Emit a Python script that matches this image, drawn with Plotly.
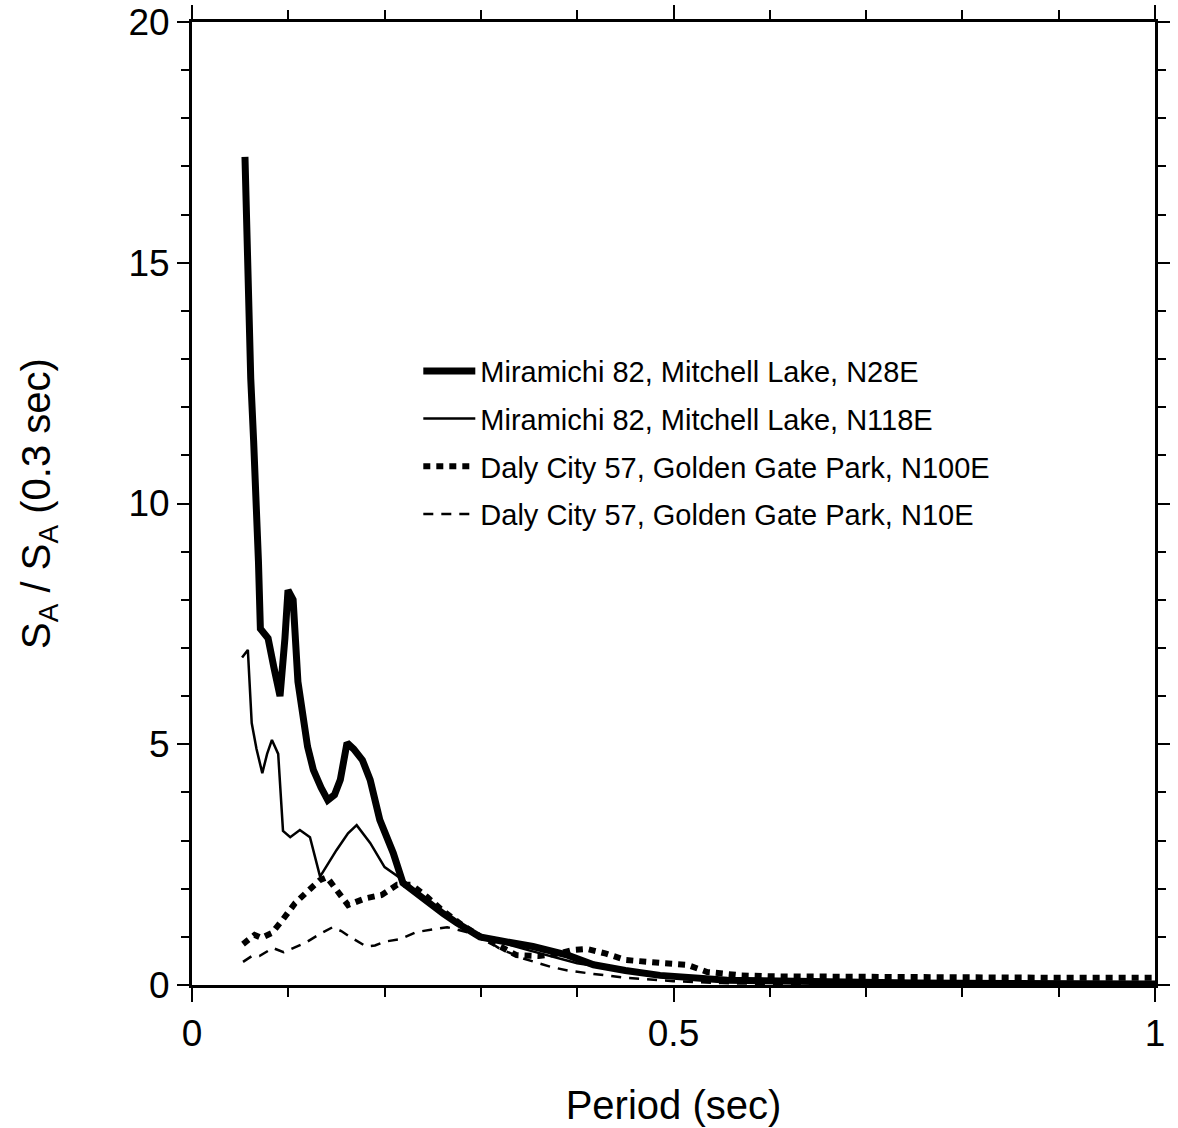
import plotly.graph_objects as go

# N28E (thick solid)
x_n28e = [0.055, 0.058, 0.061, 0.064, 0.0665, 0.069, 0.071, 0.075, 0.079, 0.085, 0.0914,
          0.0965, 0.0997, 0.105, 0.110, 0.120, 0.126, 0.134, 0.141, 0.148, 0.154, 0.161,
          0.168, 0.177, 0.185, 0.195, 0.209, 0.219, 0.233, 0.247, 0.261, 0.275, 0.299,
          0.320, 0.354, 0.390, 0.417, 0.450, 0.486, 0.556, 0.650, 0.750, 0.850, 1.000]
y_n28e = [17.2, 14.5, 12.6, 11.3, 10.3, 8.8, 7.4, 7.3, 7.2, 6.6, 6.0,
          7.2, 8.2, 8.0, 6.3, 4.95, 4.47, 4.1, 3.84, 3.95, 4.26, 5.03,
          4.9, 4.67, 4.26, 3.43, 2.74, 2.12, 1.9, 1.7, 1.48, 1.29, 1.0,
          0.92, 0.8, 0.62, 0.42, 0.3, 0.2, 0.1, 0.06, 0.04, 0.03, 0.02]

# N118E (thin solid)
x_n118e = [0.052, 0.058, 0.062, 0.067, 0.073, 0.078, 0.083, 0.0895, 0.0945, 0.102, 0.112,
           0.1225, 0.133, 0.150, 0.162, 0.171, 0.185, 0.200, 0.219, 0.247, 0.275, 0.300,
           0.350, 0.400, 0.450, 0.500, 0.550, 0.600, 0.700, 0.850, 1.000]
y_n118e = [6.8, 6.96, 5.44, 4.9, 4.4, 4.8, 5.09, 4.8, 3.2, 3.07, 3.22,
           3.07, 2.25, 2.8, 3.15, 3.32, 2.95, 2.45, 2.18, 1.68, 1.26, 1.0,
           0.72, 0.45, 0.3, 0.18, 0.1, 0.06, 0.04, 0.03, 0.02]

# N100E (thick dotted)
x_n100e = [0.053, 0.065, 0.072, 0.083, 0.094, 0.107, 0.123, 0.133, 0.140, 0.150, 0.162,
           0.180, 0.197, 0.213, 0.228, 0.244, 0.260, 0.280, 0.300, 0.320, 0.337, 0.360,
           0.380, 0.396, 0.410, 0.430, 0.450, 0.486, 0.514, 0.535, 0.570, 0.600, 0.700,
           0.800, 0.900, 1.000]
y_n100e = [0.85, 1.04, 0.98, 1.08, 1.35, 1.7, 2.0, 2.18, 2.24, 1.97, 1.66,
           1.8, 1.87, 2.08, 2.08, 1.83, 1.55, 1.25, 1.0, 0.8, 0.62, 0.6,
           0.65, 0.73, 0.75, 0.65, 0.52, 0.46, 0.42, 0.27, 0.2, 0.18, 0.16,
           0.15, 0.15, 0.15]

# N10E (thin dashed)
x_n10e = [0.053, 0.062, 0.070, 0.084, 0.095, 0.108, 0.119, 0.132, 0.146, 0.155, 0.164,
          0.181, 0.190, 0.200, 0.216, 0.233, 0.250, 0.265, 0.285, 0.300, 0.320, 0.344,
          0.372, 0.390, 0.417, 0.450, 0.500, 0.550, 0.600, 0.700, 1.000]
y_n10e = [0.48, 0.6, 0.6, 0.77, 0.68, 0.8, 0.89, 1.05, 1.2, 1.12, 1.0,
          0.8, 0.82, 0.9, 0.95, 1.1, 1.15, 1.2, 1.1, 1.0, 0.75, 0.55,
          0.38, 0.3, 0.23, 0.15, 0.08, 0.04, 0.02, 0.01, 0.0]

names = ["Miramichi 82, Mitchell Lake, N28E",
         "Miramichi 82, Mitchell Lake, N118E",
         "Daly City 57, Golden Gate Park, N100E",
         "Daly City 57, Golden Gate Park, N10E"]

x_ticks = [0, 0.5, 1]
x_tick_labels = ["0", "0.5", "1"]
y_ticks = [0, 5, 10, 15, 20]
y_tick_labels = ["0", "5", "10", "15", "20"]

FONT = "Liberation Sans, Arial, Helvetica, sans-serif"

fig = go.Figure()
series = [
    (x_n28e, y_n28e, dict(color="black", width=7, dash="solid")),
    (x_n118e, y_n118e, dict(color="black", width=2.5, dash="solid")),
    (x_n100e, y_n100e, dict(color="black", width=6, dash="7px,6px")),
    (x_n10e, y_n10e, dict(color="black", width=2.5, dash="10px,8px")),
]
for i, (xs, ys, ln) in enumerate(series):
    fig.add_trace(go.Scatter(x=xs, y=ys, mode="lines", name=names[i], line=ln,
                             legendgroup=f"g{i}"))

axis_common = dict(
    showline=True, linecolor="black", linewidth=3, mirror="ticks",
    ticks="outside", tickcolor="black", tickwidth=2,
    showgrid=False, zeroline=False, automargin=False,
    tickfont=dict(family=FONT, size=37, color="black"),
)

fig.update_xaxes(
    range=[0, 1], tickvals=x_ticks, ticktext=x_tick_labels, ticklen=14,
    minor=dict(dtick=0.1, tick0=0, ticks="outside", ticklen=9, tickwidth=2, tickcolor="black"),
    title=dict(text="Period (sec)", font=dict(family=FONT, size=40, color="black"), standoff=38),
    **axis_common,
)
fig.update_yaxes(
    range=[0, 20], tickvals=y_ticks, ticktext=y_tick_labels, ticklen=12,
    minor=dict(dtick=1, tick0=0, ticks="outside", ticklen=8, tickwidth=2, tickcolor="black"),
    title=dict(text="S<sub>A</sub> / S<sub>A</sub> (0.3 sec)",
               font=dict(family=FONT, size=40, color="black"), standoff=66),
    **axis_common,
)

fig.update_layout(
    width=1178, height=1128,
    margin=dict(l=192, r=23, t=22, b=143),
    plot_bgcolor="white", paper_bgcolor="white",
    showlegend=True,
    legend=dict(x=0.235, y=0.664, xanchor="left", yanchor="top",
                font=dict(family=FONT, size=29, color="black"),
                bgcolor="rgba(0,0,0,0)", tracegroupgap=7, itemwidth=52),
)

fig.write_html("out.html")
